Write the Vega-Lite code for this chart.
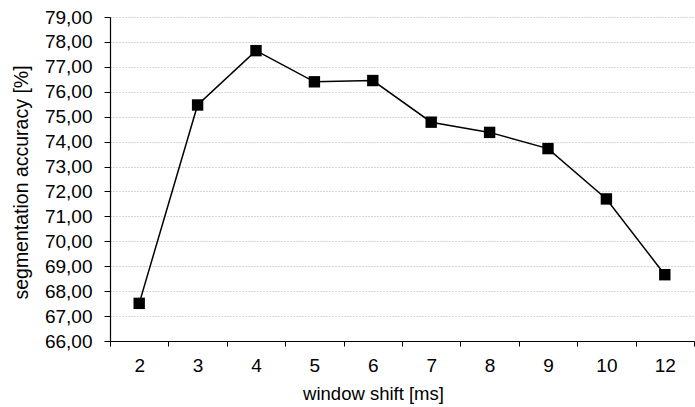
{
  "$schema": "https://vega.github.io/schema/vega-lite/v6.json",
  "autosize": "none",
  "width": 584,
  "height": 324,
  "padding": {"left": 110, "top": 17, "right": 1, "bottom": 66},
  "background": "white",
  "config": {
    "view": {"stroke": null},
    "font": "Liberation Sans",
    "axis": {"labelFont": "Liberation Sans", "titleFont": "Liberation Sans", "labelColor": "#000", "titleColor": "#000", "titleFontWeight": "normal"}
  },
  "data": {
    "values": [
      {"shift": "2", "accuracy": 67.51},
      {"shift": "3", "accuracy": 75.47},
      {"shift": "4", "accuracy": 77.65},
      {"shift": "5", "accuracy": 76.40},
      {"shift": "6", "accuracy": 76.45},
      {"shift": "7", "accuracy": 74.78},
      {"shift": "8", "accuracy": 74.37},
      {"shift": "9", "accuracy": 73.72},
      {"shift": "10", "accuracy": 71.70},
      {"shift": "12", "accuracy": 68.66}
    ]
  },
  "encoding": {
    "x": {
      "field": "shift", "type": "ordinal", "sort": null,
      "scale": {"type": "band", "paddingInner": 0, "paddingOuter": 0},
      "axis": {
        "title": "window shift [ms]", "labelAngle": 0, "labelFontSize": 19, "titleFontSize": 18.5,
        "tickBand": "extent", "tickColor": "#000", "tickSize": 5, "domainColor": "#000", "domainWidth": 1.2,
        "labelPadding": 10, "titlePadding": 9, "titleX": 263, "grid": false
      }
    },
    "y": {
      "field": "accuracy", "type": "quantitative",
      "scale": {"domain": [66, 79], "zero": false, "nice": false},
      "axis": {
        "title": "segmentation accuracy [%]", "values": [66,67,68,69,70,71,72,73,74,75,76,77,78,79],
        "labelExpr": "replace(format(datum.value, '.2f'), '.', ',')",
        "labelFontSize": 19, "titleFontSize": 19.5, "tickColor": "#000", "tickSize": 6,
        "domainColor": "#000", "domainWidth": 1.2, "labelPadding": 12, "titlePadding": 13,
        "titleY": 165,
        "grid": true, "gridColor": "#999", "gridDash": [1, 2], "gridWidth": 0.8
      }
    }
  },
  "layer": [
    {"mark": {"type": "line", "color": "#000", "strokeWidth": 1.5}},
    {"mark": {"type": "point", "shape": "square", "filled": true, "color": "#000", "opacity": 1, "size": 130}}
  ]
}
